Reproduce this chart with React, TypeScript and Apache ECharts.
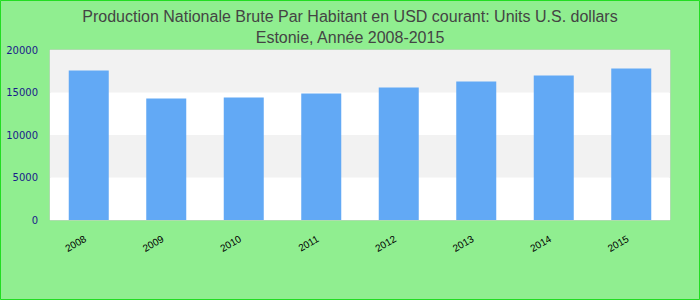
import React, { useEffect, useRef } from "react";
import * as echarts from "echarts";

const titleLines = [
  "Production Nationale Brute Par Habitant en USD courant: Units U.S. dollars",
  "Estonie, Année 2008-2015",
];
const years = ["2008", "2009", "2010", "2011", "2012", "2013", "2014", "2015"];
const values = [17600, 14300, 14420, 14890, 15590, 16300, 17000, 17820];

export default function App() {
  const ref = useRef<HTMLDivElement>(null);
  useEffect(() => {
    document.body.style.margin = "0";
    const chart = echarts.init(ref.current!, null, { renderer: "svg" });
    chart.setOption({
      animation: false,
      backgroundColor: "#90EE90",
      title: {
        text: titleLines.join("\n"),
        left: "center",
        top: 1,
        textStyle: {
          fontFamily: "Liberation Sans, Arial, sans-serif",
          fontSize: 16,
          fontWeight: "normal",
          color: "#444",
          lineHeight: 21,
        },
      },
      graphic: [
        {
          type: "rect",
          shape: { x: 0.5, y: 0.5, width: 699, height: 299 },
          style: { fill: "none", stroke: "#22dd22", lineWidth: 1 },
          silent: true,
        },
      ],
      grid: {
        left: 50,
        right: 30,
        top: 50,
        bottom: 80,
        show: true,
        borderColor: "#cccccc",
        borderWidth: 1,
        backgroundColor: "#ffffff",
      },
      xAxis: {
        type: "category",
        data: years,
        axisLine: { show: false },
        axisTick: { show: false },
        axisLabel: {
          rotate: 30,
          color: "#000",
          fontSize: 10,
          fontFamily: "Liberation Sans, Arial, sans-serif",
          margin: 16,
          padding: [0, 4, 0, 0],
        },
      },
      yAxis: {
        type: "value",
        min: 0,
        max: 20000,
        interval: 5000,
        axisLine: { show: false },
        axisTick: { show: false },
        splitLine: { show: false },
        splitArea: { show: true, areaStyle: { color: ["#ffffff", "#f2f2f2"] } },
        axisLabel: {
          color: "#1a1a8a",
          fontSize: 10,
          fontFamily: "DejaVu Sans, sans-serif",
          margin: 12,
          formatter: (v: number) => String(v),
        },
      },
      series: [
        {
          type: "bar",
          data: values,
          barWidth: 40,
          itemStyle: { color: "#62a9f5" },
        },
      ],
    });
    return () => chart.dispose();
  }, []);
  return <div ref={ref} style={{ width: 700, height: 300 }} />;
}
